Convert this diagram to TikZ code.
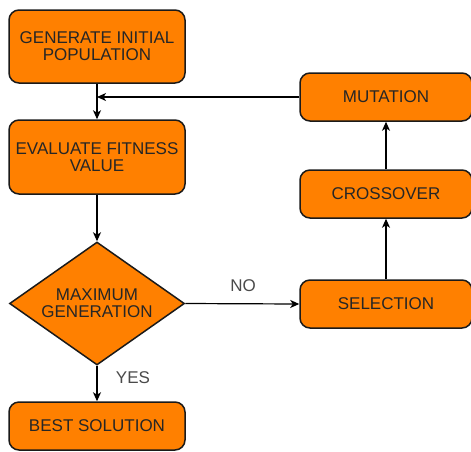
\documentclass[tikz,border=0pt]{standalone}
\usepackage{fontspec}
\setmainfont{Liberation Sans}
\usetikzlibrary{shapes.geometric,arrows.meta}
\definecolor{boxfill}{HTML}{FF8000}
\definecolor{boxline}{HTML}{1A1A1A}
\definecolor{boxtext}{HTML}{262626}
\definecolor{labtext}{HTML}{4A4A4A}
\begin{document}
\begin{tikzpicture}[x=1pt,y=-1pt,
  stepbox/.style={draw=boxline,line width=1.5pt,fill=boxfill,rounded corners=10pt,
    align=center,inner sep=0pt,text=boxtext,font=\fontsize{17}{17}\selectfont},
  decision/.style={draw=boxline,line width=1.5pt,fill=boxfill,shape=diamond,aspect=1.42,
    inner sep=0pt,align=center,text=boxtext,font=\fontsize{17}{17}\selectfont,
    minimum width=175pt,minimum height=123pt},
  arr/.style={draw=black,line width=1.2pt,-{Stealth[length=9pt,width=8pt,inset=2.5pt]}},
  lab/.style={text=labtext,font=\fontsize{17}{17}\selectfont,inner sep=0pt}]
\useasboundingbox (0,0) rectangle (471,451);
\node[stepbox,minimum width=176pt,minimum height=73pt] (gen) at (97,46.5) {GENERATE INITIAL\\POPULATION};
\node[stepbox,minimum width=176pt,minimum height=74pt] (eval) at (97,157) {EVALUATE FITNESS\\VALUE};
\node[decision] (max) at (97,303.5) {MAXIMUM\\GENERATION};
\node[stepbox,minimum width=176pt,minimum height=48pt] (best) at (97,426) {BEST SOLUTION};
\node[stepbox,minimum width=172pt,minimum height=48pt] (mut) at (386,97) {MUTATION};
\node[stepbox,minimum width=172pt,minimum height=48pt] (cross) at (386,194) {CROSSOVER};
\node[stepbox,minimum width=172pt,minimum height=48pt] (sel) at (386,304) {SELECTION};
\coordinate (fb) at (gen.south |- mut.west);
\draw[arr] (gen.south) -- (eval.north);
\draw[arr] (mut.west) -- (fb);
\draw[arr] (eval.south) -- (max.north);
\draw[arr] (max.south) -- (best.north);
\draw[arr] (max.east) -- (sel.west);
\draw[arr] (sel.north) -- (cross.south);
\draw[arr] (cross.north) -- (mut.south);
\node[lab] (no) at (243,286) {NO};
\node[lab] (yes) at (133,378) {YES};
\end{tikzpicture}
\end{document}
